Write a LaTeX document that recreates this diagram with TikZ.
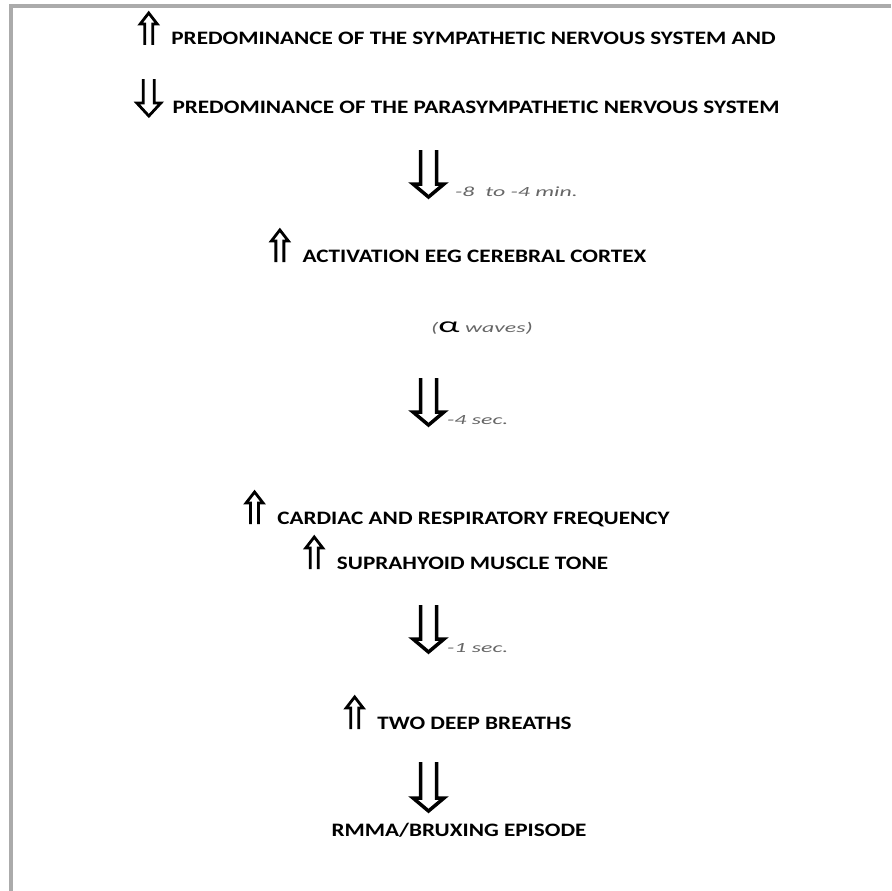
\documentclass[tikz,border=0pt]{standalone}
\usepackage{fontspec}
\setmainfont{Carlito}
\newfontfamily\capsfont[FakeStretch=1.22]{Carlito}
\newfontfamily\notefont[FakeStretch=1.7]{Carlito}

% small hollow arrows in front of a label (space is left in the label)
\newcommand{\upgap}{\hspace{31pt}}
\newcommand{\downgap}{\hspace{36pt}}
\newcommand{\smallup}[1]{%
  \draw[smallline] ([xshift=4.5pt]#1.base west) -- ++(0pt,21pt) -- ++(-4.5pt,0pt) -- ++(8.5pt,11pt)
    -- ++(8.5pt,-11pt) -- ++(-4.5pt,0pt) -- ++(0pt,-21pt);}
\newcommand{\smalldown}[1]{%
  \draw[smallline] ([xshift=7pt,yshift=34pt]#1.base west) -- ++(0pt,-24pt) -- ++(-6.5pt,0pt) -- ++(12pt,-13pt)
    -- ++(12pt,13pt) -- ++(-6.5pt,0pt) -- ++(0pt,24pt);}
% hollow down arrow between two named points
\newcommand{\bigdown}[2]{%
  \draw[bigline] ([xshift=-8pt]#1) -- ([xshift=-8pt,yshift=13pt]#2) -- ([xshift=-15.5pt,yshift=13pt]#2) -- (#2)
    -- ([xshift=15.5pt,yshift=13pt]#2) -- ([xshift=8pt,yshift=13pt]#2) -- ([xshift=8pt]#1);}

\begin{document}
\begin{tikzpicture}[x=1pt, y=-1pt]
    \tikzstyle{item}=[anchor=base, inner sep=0pt, font=\capsfont\fontsize{19}{19}\selectfont\bfseries]
    \tikzstyle{note}=[anchor=base west, inner sep=0pt, text=black!60, font=\notefont\fontsize{14}{14}\selectfont\itshape]
    \tikzstyle{bigline}=[draw=black, line width=3.5pt, line join=miter]
    \tikzstyle{smallline}=[draw=black, line width=2.8pt, line join=miter]

    \useasboundingbox (0,0) rectangle (891,891);
    \draw[black!33, line width=4pt] (11,891) -- (11,6) -- (891,6);

    % Nodes
    \node[item] (symp) at (458,45) {\upgap PREDOMINANCE OF THE SYMPATHETIC NERVOUS SYSTEM AND};
    \node[item] (para) at (458,113) {\downgap PREDOMINANCE OF THE PARASYMPATHETIC NERVOUS SYSTEM};
    \node[item] (eeg) at (459,262) {\upgap ACTIVATION EEG CEREBRAL CORTEX};
    \node[note, anchor=base] (alpha) at (482,332) {({\color{black}\upshape\fontsize{22}{22}\selectfont α} waves)};
    \node[item] (card) at (458,524) {\upgap CARDIAC AND RESPIRATORY FREQUENCY};
    \node[item] (supra) at (457,569) {\upgap SUPRAHYOID MUSCLE TONE};
    \node[item] (breath) at (459,729) {\upgap TWO DEEP BREATHS};
    \node[item] (rmma) at (459,836) {RMMA/BRUXING EPISODE};

    \smallup{symp}
    \smalldown{para}
    \smallup{eeg}
    \smallup{card}
    \smallup{supra}
    \smallup{breath}

    % Arrows
    \coordinate (a1) at (428.5,150);  \coordinate (b1) at (428.5,197);
    \coordinate (a2) at (428.5,378);  \coordinate (b2) at (428.5,425);
    \coordinate (a3) at (428.5,605);  \coordinate (b3) at (428.5,652);
    \coordinate (a4) at (428.5,762);  \coordinate (b4) at (428.5,811);
    \bigdown{a1}{b1}
    \bigdown{a2}{b2}
    \bigdown{a3}{b3}
    \bigdown{a4}{b4}

    % Times
    \node[note] (t1) at (455,196) {-8~ to -4 min.};
    \node[note] (t2) at (447,424) {-4 sec.};
    \node[note] (t3) at (447,652) {-1 sec.};
\end{tikzpicture}
\end{document}
